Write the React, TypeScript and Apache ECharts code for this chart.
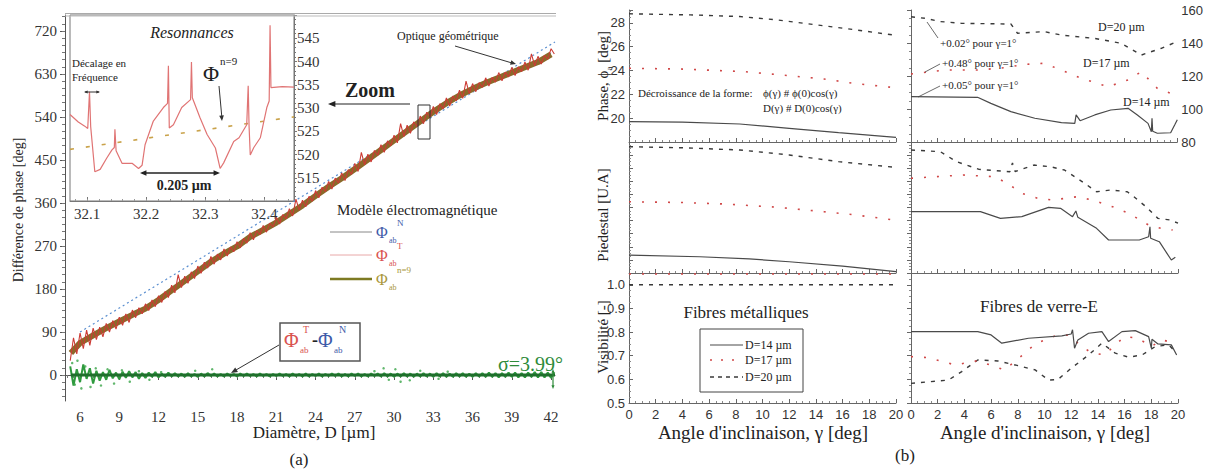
import React, { useEffect, useRef } from "react";
import * as echarts from "echarts";

const SERIF = "'Liberation Serif', 'DejaVu Serif', serif";
const SANS = "'Liberation Sans', 'DejaVu Sans', sans-serif";

// ---------------- (a) main panel ----------------
const diamTicks = [6, 9, 12, 15, 18, 21, 24, 27, 30, 33, 36, 39, 42];
const phaseTicks = [0, 90, 180, 270, 360, 450, 540, 630, 720];
const denseStart = 5.25;
const denseStep = 0.25;
const phiTotal = [
  30, 78, 44, 88, 55, 94, 62, 98, 74, 100, 80, 108, 90, 114, 96, 121,
  104, 128, 110, 136, 120, 141, 128, 149, 135, 157, 143, 166, 152, 175, 162, 188,
  172, 210, 183, 207, 192, 216, 202, 228, 213, 236, 224, 248, 232, 253, 241, 264,
  249, 268, 258, 279, 266, 286, 276, 298, 283, 302, 294, 313, 299, 318, 310, 330,
  316, 336, 327, 348, 333, 368, 345, 366, 352, 374, 364, 386, 371, 393, 384, 405,
  389, 412, 402, 423, 407, 430, 420, 443, 426, 466, 440, 462, 446, 470, 460, 482,
  466, 490, 480, 502, 486, 526, 499, 523, 506, 530, 520, 542, 526, 550, 540, 562,
  545, 568, 557, 580, 563, 584, 574, 596, 579, 615, 589, 610, 593, 612, 602, 622,
  605, 623, 613, 633, 616, 634, 624, 644, 627, 645, 635, 655, 638, 672, 647, 667,
  651, 669, 661, 683, 672,
];
const phiDiff = [
  18, -22, 12, -15, 22, -8, 14, -18, 9, -12, 6, -10, 11, -7, 5, -9,
  7, -6, 8, -5, 6, -8, 4, -6, 5, -4, 6, -5, 3, -4, 5, -3,
  4, -3, 3, -4, 4, -3, 2, -4, 3, -3, 4, -2, 3, -3, 2, -3,
  3, -2, 2, -3, 3, -2, 3, -2, 2, -3, 3, -2, 2, -3, 2, -2,
  3, -2, 2, -3, 3, -2, 2, -3, 3, -3, 2, -2, 3, -3, 2, -2,
  3, -2, 3, -3, 2, -3, 3, -2, 3, -3, 2, -3, 3, -2, 3, -3,
  4, -3, 3, -4, 3, -3, 4, -3, 3, -4, 3, -3, 4, -3, 3, -4,
  4, -3, 4, -4, 3, -4, 4, -3, 4, -4, 3, -4, 4, -3, 4, -4,
  5, -4, 4, -5, 4, -4, 5, -4, 5, -5, 4, -5, 5, -4, 6, -5,
  6, -5, 5, -6, 6,
];
const coarseDiam = [5.3, 6, 7, 8, 9, 10, 11, 12, 13, 14, 15, 16, 17, 18, 19, 20, 21, 22, 23, 24, 25, 26, 27, 28, 29, 30, 31, 32, 33, 34, 35, 36, 37, 38, 39, 40, 41, 42];
const phiNormal = [50, 70, 86, 101, 115, 129, 142, 160, 180, 200, 220, 240, 257, 272, 292, 307, 322, 340, 358, 378, 397, 415, 434, 454, 474, 494, 514, 534, 554, 572, 588, 602, 614, 625, 636, 647, 658, 674];
const phiN9 = [46, 67, 83, 98, 112, 126, 139, 157, 177, 197, 217, 237, 254, 269, 289, 304, 319, 337, 355, 375, 394, 412, 431, 451, 471, 491, 511, 531, 551, 569, 585, 599, 611, 622, 633, 644, 655, 671];
const geoDiam = [6.0, 42.3];
const geoPhase = [90, 697];
const strayDiam = [5.4, 5.6, 5.8, 6.1, 6.4, 6.8, 7.2, 7.6, 8.1, 8.6, 9.2, 9.8, 10.5, 11.3, 12.2, 14.8, 16.1, 28.5, 29.2, 29.6, 30.1, 30.5, 31.2, 32.0, 33.4, 34.1];
const strayDiff = [25, -20, 30, -28, 18, -25, 14, -22, 12, -18, 10, -14, 8, -10, 6, 9, 12, 8, 14, -10, 12, -14, -11, 9, -8, 7];
const zeroDiam = [5.3, 42.3];
const zeroVal = [0, 0];

// ---------------- inset ----------------
const insetTicks = [32.1, 32.2, 32.3, 32.4];
const insetDiam = [32.071, 32.085, 32.096, 32.101, 32.104, 32.106, 32.113, 32.122, 32.133, 32.142, 32.146, 32.147, 32.149, 32.159, 32.176, 32.187, 32.193, 32.198, 32.212, 32.229, 32.236, 32.2375, 32.239, 32.246, 32.26, 32.275, 32.2765, 32.278, 32.291, 32.303, 32.317, 32.325, 32.331, 32.348, 32.357, 32.37, 32.3725, 32.374, 32.376, 32.382, 32.393, 32.404, 32.408, 32.4095, 32.411, 32.43, 32.45];
const insetPhase = [528.6, 527.0, 526.1, 525.6, 533.5, 526.0, 516.3, 516.8, 519.2, 521.0, 521.5, 525.4, 520.8, 518.1, 518.1, 517.0, 517.7, 522.1, 527.2, 530.1, 531.0, 539.1, 525.7, 526.4, 530.1, 531.8, 539.9, 532.2, 527.9, 524.3, 521.4, 517.0, 518.2, 522.8, 523.6, 526.4, 534.8, 526.0, 519.9, 521.5, 523.6, 530.1, 531.5, 547.8, 534.4, 534.6, 534.5];
const insetN9Diam = [32.071, 32.45];
const insetN9 = [521.1, 528.1];

// ---------------- (b) metallic fibres ----------------
const metPhaseD20G = [0, 2, 4.6, 8.3, 11.1, 14.6, 17, 20];
const metPhaseD20 = [28.76, 28.72, 28.67, 28.53, 28.25, 27.75, 27.41, 26.95];
const metPhaseD17G = [0, 4, 8.6, 11.4, 14.6, 16.8, 20];
const metPhaseD17 = [24.19, 24.12, 23.91, 23.63, 23.29, 22.93, 22.55];
const metPhaseD14G = [0, 4, 8.3, 12, 15.7, 20];
const metPhaseD14 = [19.71, 19.66, 19.51, 19.15, 18.78, 18.39];

const metPedD20G = [0, 4, 8.3, 12, 15.7, 20];
const metPedD20 = [96.4, 95.6, 93.9, 90.1, 85, 80.6];
const metPedD17G = [0, 4, 7.1, 11.1, 14.6, 17, 20];
const metPedD17 = [54.4, 53.8, 52.7, 50.2, 46.8, 44.3, 40.2];
const metPedD14G = [0, 5.3, 9, 12, 16, 20];
const metPedD14 = [13.7, 12.4, 10.8, 8.6, 5.2, 1.0];

const metVisG = [0, 20];
const metVisD20 = [1.0, 1.0];
const metVisD17 = [1.046, 1.046];

// ---------------- (b) glass fibres ----------------
const glPhaseD20G = [0, 1.05, 2.2, 3.8, 7.5, 8.0, 10, 11.3, 13.8, 15.8, 17.3, 18.8, 19.8];
const glPhaseD20 = [155.9, 155, 153, 151.9, 151.5, 145.9, 146.9, 144.8, 142.8, 139.8, 132.7, 136.8, 140.2];
const glPhaseD17G = [0, 2.5, 5.0, 7.0, 8.5, 10, 11.3, 12.8, 14.8, 16.3, 17.3, 18.5, 19.5];
const glPhaseD17 = [121.2, 123.6, 123.6, 125, 127, 127.7, 123.6, 118.6, 113.5, 117.6, 122.6, 112.5, 109.5];
const glPhaseD14G = [0, 5, 6.0, 7.5, 9.3, 11.3, 12.3, 12.4, 12.7, 13.8, 15, 16.3, 17, 17.8, 18.05, 18.1, 18.15, 18.5, 19.5, 19.8, 20];
const glPhaseD14 = [107.5, 107.1, 103.4, 98.4, 94.4, 91.7, 91.3, 96.4, 92.9, 96.4, 99.4, 100.4, 96.4, 91.3, 86.2, 94.4, 86.5, 85.3, 85.6, 90.3, 93.5];

const glPedD20G = [0, 2.2, 3.4, 5.1, 7.4, 7.6, 7.8, 9.2, 10.4, 11.5, 13, 13.9, 15.0, 16.2, 16.7, 17.6, 18.5, 19.4, 20];
const glPedD20 = [93.9, 92.6, 85, 79.1, 77.3, 84, 77.5, 82.4, 81.2, 78.6, 68.5, 62, 63.4, 62, 58.2, 50.6, 41.7, 40.5, 38];
const glPedD17G = [0, 1.8, 3.9, 6.3, 7.4, 8.3, 9.5, 10.6, 12.4, 13.6, 15.1, 16.3, 17.8, 18.7, 19.6];
const glPedD17 = [72.3, 73.5, 74.8, 73.5, 67.2, 60.8, 57, 55.7, 58.2, 55.7, 50.6, 45.6, 36.6, 34.1, 32.8];
const glPedD14G = [0, 5.2, 6.7, 8.3, 10.3, 11.2, 12.1, 12.35, 12.5, 13.9, 14.8, 17.1, 17.8, 17.9, 17.95, 18.6, 19.5, 19.8];
const glPedD14 = [46.8, 46.8, 41.7, 43, 50.1, 49.4, 43, 47.3, 42.5, 34.1, 25.2, 25.2, 27.7, 35.3, 26.5, 23.9, 9.9, 12];

const glVisD14G = [0, 5, 6, 6.8, 8.8, 11.3, 12.0, 12.1, 12.25, 12.5, 13.3, 14.3, 14.8, 15.8, 16.8, 17.8, 18.0, 18.05, 18.5, 19.5, 19.9];
const glVisD14 = [0.802, 0.802, 0.788, 0.753, 0.774, 0.784, 0.792, 0.81, 0.732, 0.767, 0.795, 0.802, 0.76, 0.802, 0.806, 0.781, 0.732, 0.77, 0.75, 0.746, 0.703];
const glVisD17G = [0, 1.3, 3.3, 5.0, 7.0, 8.3, 9.3, 10.8, 11.8, 12.8, 13.5, 14.5, 15.3, 16.0, 17.0, 18.0, 18.8, 19.8];
const glVisD17 = [0.696, 0.692, 0.661, 0.679, 0.64, 0.70, 0.75, 0.784, 0.788, 0.739, 0.713, 0.703, 0.746, 0.781, 0.774, 0.739, 0.767, 0.753];
const glVisD20G = [0, 2.8, 3.8, 5.0, 6.5, 7.8, 9.3, 10.3, 11.0, 12.0, 13.3, 14.3, 15.3, 16.3, 17.3, 18.3, 19.3, 19.9];
const glVisD20 = [0.583, 0.597, 0.633, 0.682, 0.678, 0.661, 0.64, 0.597, 0.599, 0.647, 0.703, 0.753, 0.711, 0.694, 0.703, 0.739, 0.746, 0.711];

// ---------------- helpers ----------------
const pairs = (xs: number[], ys: number[]) => xs.map((x, i) => [x, ys[i]]);
const dense = (vals: number[]) => vals.map((v, i) => [+(denseStart + i * denseStep).toFixed(3), v]);
const range = (a: number, b: number, s: number) => {
  const out: number[] = [];
  for (let v = a; v <= b + 1e-9; v += s) out.push(+v.toFixed(4));
  return out;
};

const ln = (data: any, xi: number, yi: number, lineStyle: any, z = 3) => ({
  type: "line", data, xAxisIndex: xi, yAxisIndex: yi, showSymbol: false, symbol: "none",
  lineStyle, silent: true, z, animation: false,
});

const sD14 = { color: "#4a4a4a", width: 1.2, type: "solid" };
const sD17 = { color: "#d04848", width: 1.6, type: [2, 11] };
const sD20 = { color: "#3a3a3a", width: 1.4, type: [4, 6] };

function txt(x: number, y: number, text: string, o: any = {}) {
  return {
    type: "text", x, y, z: 100, rotation: o.rot || 0,
    style: {
      text, fill: o.color || "#222", fontSize: o.size || 12, fontFamily: o.family || SERIF,
      fontWeight: o.weight || "normal", fontStyle: o.fstyle || "normal",
      align: o.align || "left", verticalAlign: o.va || "middle", rich: o.rich,
    },
  };
}
function seg(x1: number, y1: number, x2: number, y2: number, color = "#333", w = 1) {
  return { type: "line", z: 100, shape: { x1, y1, x2, y2 }, style: { stroke: color, lineWidth: w } };
}
function head(x1: number, y1: number, x2: number, y2: number, size = 6, color = "#333") {
  const a = Math.atan2(y2 - y1, x2 - x1);
  const p1 = [x2 - size * Math.cos(a - 0.4), y2 - size * Math.sin(a - 0.4)];
  const p2 = [x2 - size * Math.cos(a + 0.4), y2 - size * Math.sin(a + 0.4)];
  return { type: "polygon", z: 100, shape: { points: [[x2, y2], p1, p2] }, style: { fill: color } };
}

function buildOption() {
  const mainAxisCol = "#555";
  const bAxis = "#666";
  const bx = (gi: number, show: boolean) => ({
    gridIndex: gi, type: "value", position: "bottom", min: 0, max: 20, interval: 2,
    axisLine: { lineStyle: { color: bAxis, width: 1 } },
    axisTick: { inside: true, length: 4, lineStyle: { color: bAxis } },
    minorTick: { show: true, splitNumber: 4, length: 2, lineStyle: { color: "#888" } },
    axisLabel: { show, fontFamily: SANS, fontSize: 13, color: "#333", margin: 5 },
    splitLine: { show: false }, minorSplitLine: { show: false },
  });
  const by = (gi: number, pos: string, min: number, max: number, interval: number, show: boolean, fmt?: any) => ({
    gridIndex: gi, type: "value", position: pos, min, max, interval,
    axisLine: { show: true, lineStyle: { color: bAxis } },
    axisTick: { inside: true, length: 4, lineStyle: { color: bAxis } },
    minorTick: { show: true, splitNumber: 4, length: 2, lineStyle: { color: "#888" } },
    axisLabel: { show, formatter: fmt, fontFamily: SANS, fontSize: 13, color: "#333", margin: 4 },
    splitLine: { show: false }, minorSplitLine: { show: false },
  });

  const xAxis = [
    {
      gridIndex: 0, type: "value", position: "bottom", min: 4.85, max: 42.3,
      axisLine: { lineStyle: { color: mainAxisCol } },
      axisTick: { customValues: diamTicks, length: 5, lineStyle: { color: mainAxisCol } },
      axisLabel: { customValues: diamTicks, fontFamily: SERIF, fontSize: 15, color: "#333", margin: 8 },
      splitLine: { show: false },
    },
    {
      gridIndex: 0, type: "value", position: "bottom", min: 4.85, max: 42.3,
      axisLine: { show: false },
      axisTick: { customValues: range(5, 42, 0.5), length: 3, lineStyle: { color: "#777" } },
      axisLabel: { show: false }, splitLine: { show: false },
    },
    {
      gridIndex: 1, type: "value", position: "bottom", min: 32.071, max: 32.45,
      axisLine: { lineStyle: { color: "#777" } },
      axisTick: { customValues: insetTicks, inside: true, length: 4, lineStyle: { color: "#777" } },
      axisLabel: { customValues: insetTicks, formatter: (v: number) => v.toFixed(1), fontFamily: SERIF, fontSize: 15, color: "#333", margin: 5 },
      splitLine: { show: false },
    },
    {
      gridIndex: 1, type: "value", position: "bottom", min: 32.071, max: 32.45,
      axisLine: { show: false },
      axisTick: { customValues: range(32.08, 32.44, 0.02), inside: true, length: 2, lineStyle: { color: "#999" } },
      axisLabel: { show: false }, splitLine: { show: false },
    },
    bx(2, false), bx(3, false), bx(4, true),
    bx(5, false), bx(6, false), bx(7, true),
  ];

  const yAxis = [
    {
      gridIndex: 0, type: "value", position: "left", min: -54.4, max: 753.5,
      axisLine: { show: true, lineStyle: { color: mainAxisCol } },
      axisTick: { show: true, customValues: phaseTicks, length: 5, lineStyle: { color: mainAxisCol } },
      axisLabel: { customValues: phaseTicks, fontFamily: SERIF, fontSize: 15, color: "#333", margin: 8 },
      splitLine: { show: false },
    },
    {
      gridIndex: 0, type: "value", position: "left", min: -54.4, max: 753.5,
      axisLine: { show: false },
      axisTick: { show: true, customValues: range(-45, 750, 15), length: 3, lineStyle: { color: "#777" } },
      axisLabel: { show: false }, splitLine: { show: false },
    },
    {
      gridIndex: 1, type: "value", position: "right", min: 510, max: 550, interval: 5,
      axisLine: { show: true, lineStyle: { color: "#777" } },
      axisTick: { show: true, length: 3, lineStyle: { color: "#777" } },
      minorTick: { show: true, splitNumber: 5, length: 2 },
      axisLabel: { formatter: (v: number) => (v <= 510 || v >= 550 ? "" : String(v)), fontFamily: SERIF, fontSize: 15, color: "#333", margin: 3 },
      splitLine: { show: false },
    },
    by(2, "left", 18, 29.08, 2, true, (v: number) => (v < 19 || v > 28.5 ? "" : String(v))),
    by(3, "left", 0, 100, 10, false),
    by(4, "left", 0.5, 1.05, 0.1, true, (v: number) => (v > 1.001 ? "" : v.toFixed(1))),
    by(5, "right", 80, 160, 20, true),
    by(6, "right", 0, 100, 10, false),
    by(7, "right", 0.5, 1.05, 0.1, false),
  ];

  const grid = [
    { left: 65, top: 15, width: 490, height: 386 },
    { left: 70, top: 15, width: 224, height: 186, show: true, backgroundColor: "#fff", borderColor: "#777", borderWidth: 1 },
    { left: 629, top: 10, width: 267, height: 132 },
    { left: 629, top: 142, width: 267, height: 131 },
    { left: 629, top: 273, width: 267, height: 130 },
    { left: 911, top: 10, width: 267, height: 132 },
    { left: 911, top: 142, width: 267, height: 131 },
    { left: 911, top: 273, width: 267, height: 130 },
  ];

  const series: any[] = [
    // main
    ln(pairs(geoDiam, geoPhase), 0, 0, { color: "#5b8fd0", width: 1.2, type: [2, 3] }, 2),
    ln(pairs(coarseDiam, phiNormal), 0, 0, { color: "#4a6fb5", width: 1 }, 3),
    ln(pairs(coarseDiam, phiN9), 0, 0, { color: "#8a6a2a", width: 6 }, 3),
    ln(dense(phiTotal), 0, 0, { color: "#cc3b35", width: 1.1 }, 4),
    ln(dense(phiDiff), 0, 0, { color: "#2f9a3e", width: 2 }, 4),
    {
      type: "scatter", data: pairs(strayDiam, strayDiff), xAxisIndex: 0, yAxisIndex: 0,
      symbolSize: 2.5, itemStyle: { color: "#3aa548" }, silent: true, z: 4,
    },
    ln(pairs(zeroDiam, zeroVal), 0, 0, { color: "#1f6f2c", width: 3 }, 5),
    // inset
    ln(pairs(insetN9Diam, insetN9), 2, 2, { color: "#c9a24a", width: 1.6, type: [4, 12] }, 6),
    ln(pairs(insetDiam, insetPhase), 2, 2, { color: "#e07474", width: 1.2 }, 6),
    // metallic
    ln(pairs(metPhaseD20G, metPhaseD20), 4, 3, sD20),
    ln(pairs(metPhaseD17G, metPhaseD17), 4, 3, sD17),
    ln(pairs(metPhaseD14G, metPhaseD14), 4, 3, sD14),
    ln(pairs(metPedD20G, metPedD20), 5, 4, sD20),
    ln(pairs(metPedD17G, metPedD17), 5, 4, sD17),
    ln(pairs(metPedD14G, metPedD14), 5, 4, sD14),
    ln(pairs(metVisG, metVisD20), 6, 5, sD20),
    ln(pairs(metVisG, metVisD17), 6, 5, sD17),
    // glass
    ln(pairs(glPhaseD20G, glPhaseD20), 7, 6, sD20),
    ln(pairs(glPhaseD17G, glPhaseD17), 7, 6, sD17),
    ln(pairs(glPhaseD14G, glPhaseD14), 7, 6, sD14),
    ln(pairs(glPedD20G, glPedD20), 8, 7, sD20),
    ln(pairs(glPedD17G, glPedD17), 8, 7, sD17),
    ln(pairs(glPedD14G, glPedD14), 8, 7, sD14),
    ln(pairs(glVisD20G, glVisD20), 9, 8, sD20),
    ln(pairs(glVisD17G, glVisD17), 9, 8, sD17),
    ln(pairs(glVisD14G, glVisD14), 9, 8, sD14),
  ];

  const red = "#d9534f";
  const blue = "#3e5aa8";
  const olive = "#a8963a";
  const green = "#2e8b3a";

  const graphics: any[] = [
    // ----- (a) -----
    seg(65, 13.5, 556, 13.5, "#aaa", 1.2),
    seg(65, 16, 556, 16, "#bbb", 1),
    txt(18, 210, "Différence de phase [deg]", { size: 14, align: "center", rot: Math.PI / 2 }),
    txt(314, 432, "Diamètre, D [µm]", { size: 17, align: "center" }),
    txt(299, 459, "(a)", { size: 17, align: "center" }),
    txt(192, 32, "Resonnances", { size: 16, align: "center", fstyle: "italic" }),
    txt(72, 63, "Décalage en", { size: 11 }),
    txt(72, 77, "Fréquence", { size: 11 }),
    seg(85, 92, 99, 92, "#333", 1),
    head(92, 92, 84, 92, 4),
    head(92, 92, 100, 92, 4),
    txt(203, 73, "Φ", { size: 22 }),
    txt(220, 61, "n=9", { size: 11 }),
    seg(219, 86, 222, 119, "#333", 1),
    head(219, 86, 222, 121, 6),
    seg(142, 173, 218, 173, "#222", 1.5),
    head(180, 173, 140, 173, 7, "#222"),
    head(180, 173, 220, 173, 7, "#222"),
    txt(184, 185, "0.205 µm", { size: 14, align: "center", weight: "bold" }),
    txt(370, 90, "Zoom", { size: 20, align: "center", weight: "bold" }),
    seg(410, 104, 334, 104, "#222", 1.2),
    head(410, 104, 328, 104, 8, "#222"),
    { type: "rect", z: 100, shape: { x: 418, y: 105, width: 12, height: 34 }, style: { fill: "none", stroke: "#333", lineWidth: 1 } },
    txt(397, 36, "Optique géométrique", { size: 12 }),
    seg(455, 46, 512, 63, "#333", 1),
    head(455, 46, 516, 64, 6),
    // legend
    txt(337, 210, "Modèle électromagnétique", { size: 15 }),
    seg(330, 232, 372, 232, "#888", 1),
    seg(330, 255, 372, 255, "#e8a8a8", 1),
    seg(330, 279, 372, 279, "#7d7a22", 2.5),
    txt(376, 232, "Φ", { size: 16, color: blue }),
    txt(389, 240, "ab", { size: 8, color: blue }),
    txt(397, 223, "N", { size: 9, color: blue }),
    txt(376, 255, "Φ", { size: 16, color: red }),
    txt(389, 263, "ab", { size: 8, color: red }),
    txt(397, 246, "T", { size: 9, color: red }),
    txt(376, 279, "Φ", { size: 16, color: olive }),
    txt(389, 287, "ab", { size: 8, color: olive }),
    txt(397, 270, "n=9", { size: 9, color: olive }),
    // difference box
    { type: "rect", z: 99, shape: { x: 280, y: 323, width: 80, height: 38 }, style: { fill: "#fff", stroke: "#555", lineWidth: 1.5 } },
    txt(284, 340, "Φ", { size: 20, color: red }),
    txt(300, 350, "ab", { size: 9, color: red }),
    txt(303, 329, "T", { size: 10, color: red }),
    txt(312, 340, "-", { size: 18, color: "#222", weight: "bold" }),
    txt(318, 340, "Φ", { size: 20, color: blue }),
    txt(334, 350, "ab", { size: 9, color: blue }),
    txt(339, 329, "N", { size: 10, color: blue }),
    seg(279, 345, 236, 370, "#333", 1),
    head(279, 345, 231, 373, 7),
    txt(498, 364, "σ=3.99°", { size: 20, color: green }),
    seg(553, 371, 553, 387, green, 1.2),
    head(553, 379, 553, 369, 4, green),
    head(553, 379, 553, 389, 4, green),

    // ----- (b) -----
    txt(603, 76, "{n|Phase, ϕ}{s|a}{n| [deg]}", {
      align: "center", rot: Math.PI / 2,
      rich: { n: { fontSize: 15, fontFamily: SERIF, fill: "#222", lineHeight: 20 }, s: { fontSize: 9, fontFamily: SERIF, fill: "#222", verticalAlign: "bottom" } },
    }),
    txt(603, 215, "Piedestal [U.A]", { size: 15, align: "center", rot: Math.PI / 2 }),
    txt(603, 337, "Visibilité [-]", { size: 15, align: "center", rot: Math.PI / 2 }),
    txt(763, 432, "Angle d'inclinaison, γ [deg]", { size: 19, align: "center" }),
    txt(1045, 432, "Angle d'inclinaison, γ [deg]", { size: 19, align: "center" }),
    txt(905, 455, "(b)", { size: 17, align: "center" }),
    txt(638, 93, "Décroissance de la forme:", { size: 11 }),
    txt(763, 93, "ϕ(γ) # ϕ(0)cos(γ)", { size: 11 }),
    txt(763, 108, "D(γ) # D(0)cos(γ)", { size: 11 }),
    txt(940, 43, "+0.02° pour γ=1°", { size: 11 }),
    txt(942, 63, "+0.48° pour γ=1°", { size: 11 }),
    txt(942, 85, "+0.05° pour γ=1°", { size: 11 }),
    seg(927, 22, 938, 38, "#444", 0.8),
    seg(925, 72, 940, 64, "#444", 0.8),
    seg(918, 97, 940, 86, "#444", 0.8),
    txt(1098, 27, "D=20 µm", { size: 12 }),
    txt(1083, 63, "D=17 µm", { size: 12 }),
    txt(1123, 102, "D=14 µm", { size: 12 }),
    txt(746, 312, "Fibres métalliques", { size: 17, align: "center" }),
    txt(1039, 306, "Fibres de verre-E", { size: 17, align: "center" }),
    { type: "rect", z: 99, shape: { x: 700, y: 329, width: 103, height: 63 }, style: { fill: "#fff", stroke: "#444", lineWidth: 1 } },
    seg(710, 345, 743, 345, "#4a4a4a", 1.2),
    { type: "line", z: 100, shape: { x1: 710, y1: 360, x2: 743, y2: 360 }, style: { stroke: "#d04848", lineWidth: 1.6, lineDash: [2, 9] } },
    { type: "line", z: 100, shape: { x1: 710, y1: 377, x2: 743, y2: 377 }, style: { stroke: "#3a3a3a", lineWidth: 1.4, lineDash: [4, 4] } },
    txt(745, 345, "D=14 µm", { size: 12 }),
    txt(745, 360, "D=17 µm", { size: 12 }),
    txt(745, 377, "D=20 µm", { size: 12 }),
  ];

  return {
    animation: false,
    backgroundColor: "#fff",
    grid,
    xAxis,
    yAxis,
    series,
    graphic: { elements: graphics },
  };
}

export default function App() {
  const ref = useRef<HTMLDivElement>(null);
  useEffect(() => {
    const chart = echarts.init(ref.current as HTMLDivElement, null, { renderer: "svg" });
    chart.setOption(buildOption() as any);
    return () => chart.dispose();
  }, []);
  return (
    <div
      ref={ref}
      style={{ position: "fixed", left: 0, top: 0, width: 1206, height: 469, background: "#fff" }}
    />
  );
}
